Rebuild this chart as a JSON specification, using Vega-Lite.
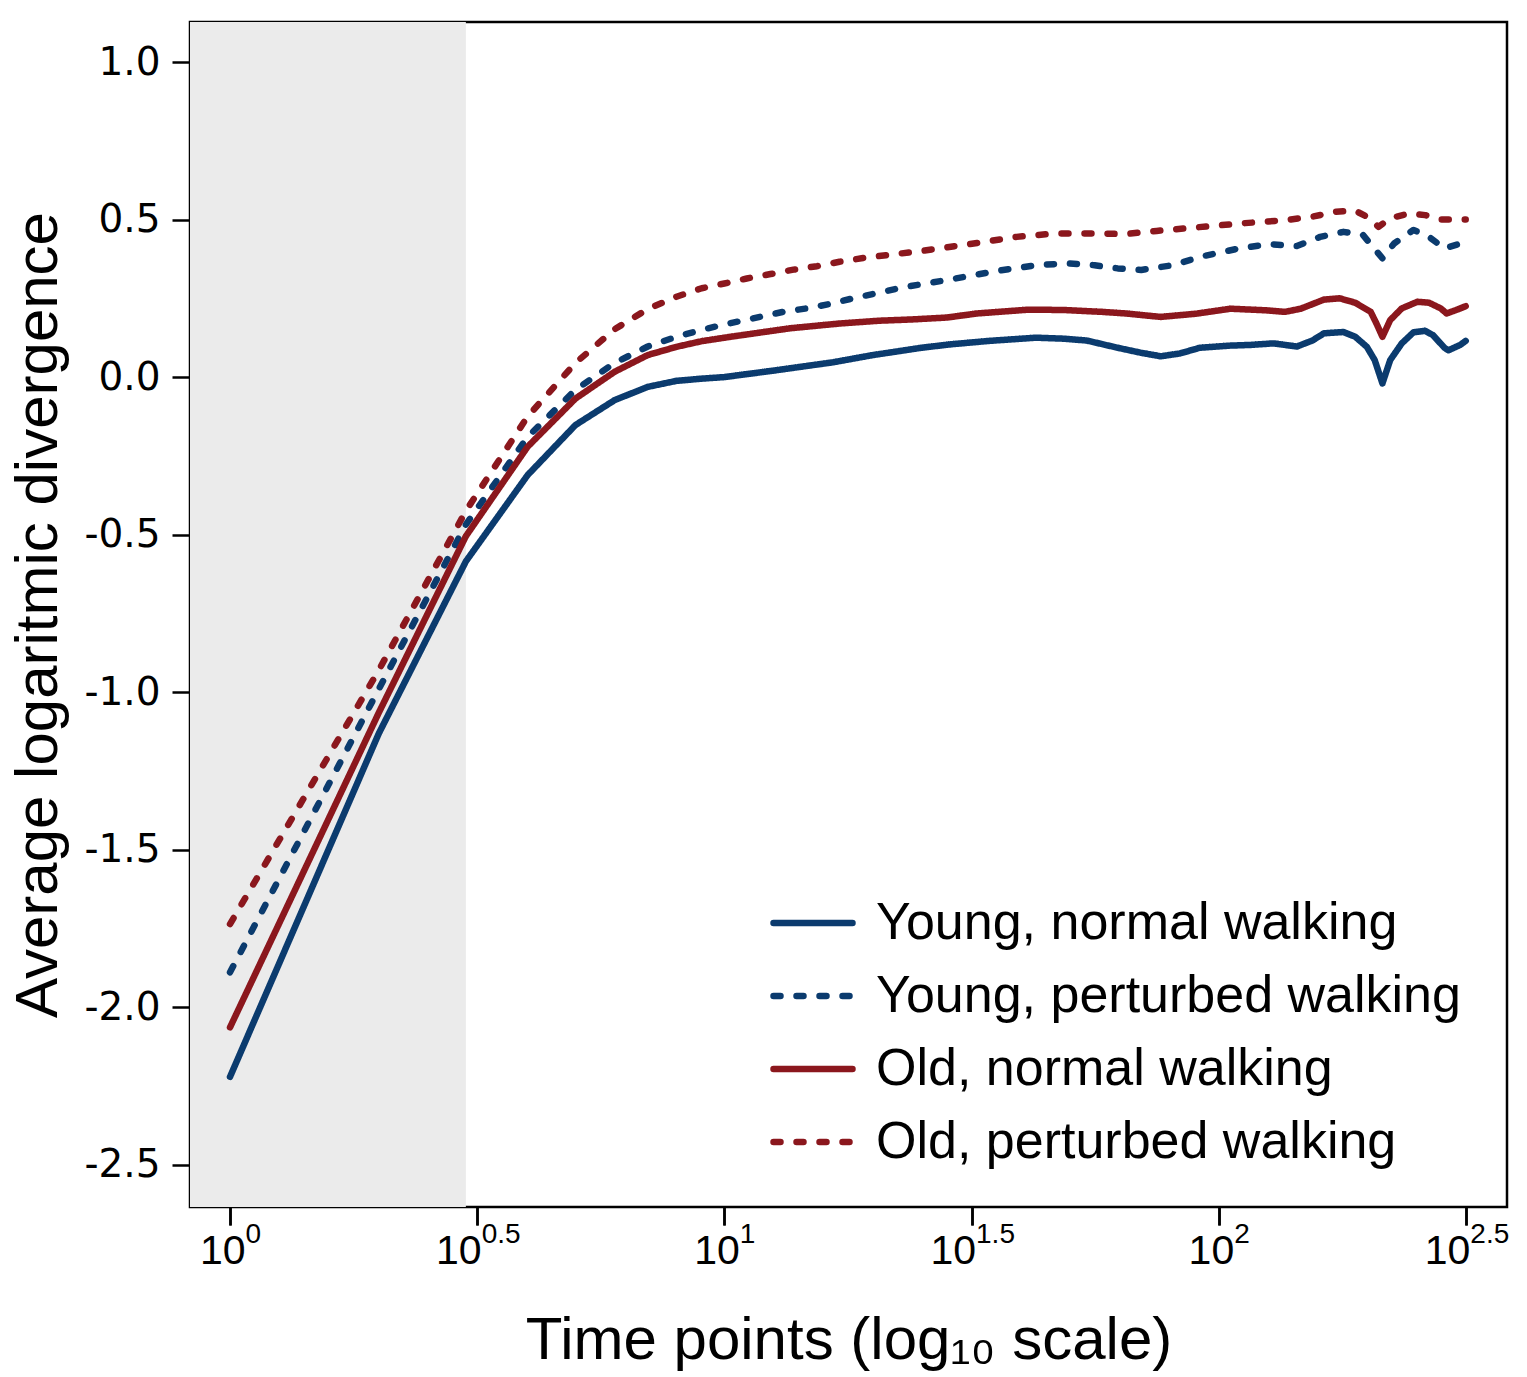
{
  "$schema": "https://vega.github.io/schema/vega-lite/v6.json",
  "width": 1317,
  "height": 1185,
  "autosize": {"type": "none"},
  "padding": {"left": 190, "top": 22, "right": 20, "bottom": 170},
  "background": "white",
  "config": {
    "view": {"stroke": "black", "strokeWidth": 2.5},
    "font": "Liberation Sans",
    "axis": {
      "grid": false,
      "domain": false,
      "tickColor": "black",
      "tickWidth": 2.5,
      "tickSize": 18,
      "labelColor": "black",
      "titleColor": "black",
      "titleFont": "Liberation Sans",
      "titleFontWeight": "normal",
      "titleFontSize": 60,
      "labelFont": "Liberation Sans"
    }
  },
  "datasets": {
    "shade": [{"a": 0.83, "b": 3}],
    "curves": [
      {"s": "Young, normal walking", "t": 1, "v": -2.221},
      {"s": "Young, normal walking", "t": 2, "v": -1.131},
      {"s": "Young, normal walking", "t": 3, "v": -0.585},
      {"s": "Young, normal walking", "t": 4, "v": -0.311},
      {"s": "Young, normal walking", "t": 5, "v": -0.152},
      {"s": "Young, normal walking", "t": 6, "v": -0.073},
      {"s": "Young, normal walking", "t": 7, "v": -0.031},
      {"s": "Young, normal walking", "t": 8, "v": -0.012},
      {"s": "Young, normal walking", "t": 9, "v": -0.005},
      {"s": "Young, normal walking", "t": 10, "v": 0.0},
      {"s": "Young, normal walking", "t": 12.5, "v": 0.02},
      {"s": "Young, normal walking", "t": 16.6, "v": 0.047},
      {"s": "Young, normal walking", "t": 20, "v": 0.07},
      {"s": "Young, normal walking", "t": 22.7, "v": 0.083},
      {"s": "Young, normal walking", "t": 25, "v": 0.093},
      {"s": "Young, normal walking", "t": 28.7, "v": 0.104},
      {"s": "Young, normal walking", "t": 34.4, "v": 0.115},
      {"s": "Young, normal walking", "t": 42.7, "v": 0.125},
      {"s": "Young, normal walking", "t": 48.5, "v": 0.122},
      {"s": "Young, normal walking", "t": 54.1, "v": 0.116},
      {"s": "Young, normal walking", "t": 62.5, "v": 0.093},
      {"s": "Young, normal walking", "t": 69.7, "v": 0.077},
      {"s": "Young, normal walking", "t": 76.3, "v": 0.066},
      {"s": "Young, normal walking", "t": 83.5, "v": 0.075},
      {"s": "Young, normal walking", "t": 91.5, "v": 0.093},
      {"s": "Young, normal walking", "t": 105.7, "v": 0.1},
      {"s": "Young, normal walking", "t": 115.7, "v": 0.102},
      {"s": "Young, normal walking", "t": 129, "v": 0.107},
      {"s": "Young, normal walking", "t": 143.9, "v": 0.097},
      {"s": "Young, normal walking", "t": 154.7, "v": 0.116},
      {"s": "Young, normal walking", "t": 163.3, "v": 0.139},
      {"s": "Young, normal walking", "t": 178.8, "v": 0.143},
      {"s": "Young, normal walking", "t": 188.9, "v": 0.128},
      {"s": "Young, normal walking", "t": 199.4, "v": 0.096},
      {"s": "Young, normal walking", "t": 206.8, "v": 0.054},
      {"s": "Young, normal walking", "t": 214.4, "v": -0.02},
      {"s": "Young, normal walking", "t": 222.3, "v": 0.054},
      {"s": "Young, normal walking", "t": 234.6, "v": 0.107},
      {"s": "Young, normal walking", "t": 247.7, "v": 0.142},
      {"s": "Young, normal walking", "t": 261.6, "v": 0.147},
      {"s": "Young, normal walking", "t": 271.3, "v": 0.133},
      {"s": "Young, normal walking", "t": 286.3, "v": 0.093},
      {"s": "Young, normal walking", "t": 291.6, "v": 0.085},
      {"s": "Young, normal walking", "t": 307.9, "v": 0.102},
      {"s": "Young, normal walking", "t": 316, "v": 0.115},

      {"s": "Young, perturbed walking", "t": 1, "v": -1.889},
      {"s": "Young, perturbed walking", "t": 2, "v": -0.99},
      {"s": "Young, perturbed walking", "t": 3, "v": -0.468},
      {"s": "Young, perturbed walking", "t": 4, "v": -0.19},
      {"s": "Young, perturbed walking", "t": 5, "v": -0.04},
      {"s": "Young, perturbed walking", "t": 6, "v": 0.045},
      {"s": "Young, perturbed walking", "t": 7, "v": 0.097},
      {"s": "Young, perturbed walking", "t": 8, "v": 0.128},
      {"s": "Young, perturbed walking", "t": 9, "v": 0.15},
      {"s": "Young, perturbed walking", "t": 10, "v": 0.167},
      {"s": "Young, perturbed walking", "t": 11.8, "v": 0.191},
      {"s": "Young, perturbed walking", "t": 13.15, "v": 0.207},
      {"s": "Young, perturbed walking", "t": 14.67, "v": 0.218},
      {"s": "Young, perturbed walking", "t": 16.35, "v": 0.232},
      {"s": "Young, perturbed walking", "t": 18.2, "v": 0.25},
      {"s": "Young, perturbed walking", "t": 20.3, "v": 0.266},
      {"s": "Young, perturbed walking", "t": 23, "v": 0.285},
      {"s": "Young, perturbed walking", "t": 28.2, "v": 0.308},
      {"s": "Young, perturbed walking", "t": 35.65, "v": 0.337},
      {"s": "Young, perturbed walking", "t": 42.7, "v": 0.355},
      {"s": "Young, perturbed walking", "t": 49.4, "v": 0.361},
      {"s": "Young, perturbed walking", "t": 56.1, "v": 0.355},
      {"s": "Young, perturbed walking", "t": 62.5, "v": 0.345},
      {"s": "Young, perturbed walking", "t": 69.7, "v": 0.34},
      {"s": "Young, perturbed walking", "t": 80.6, "v": 0.355},
      {"s": "Young, perturbed walking", "t": 93.1, "v": 0.384},
      {"s": "Young, perturbed walking", "t": 109.6, "v": 0.408},
      {"s": "Young, perturbed walking", "t": 126.7, "v": 0.422},
      {"s": "Young, perturbed walking", "t": 143.9, "v": 0.416},
      {"s": "Young, perturbed walking", "t": 160.4, "v": 0.445},
      {"s": "Young, perturbed walking", "t": 178.8, "v": 0.461},
      {"s": "Young, perturbed walking", "t": 195.8, "v": 0.451},
      {"s": "Young, perturbed walking", "t": 204.9, "v": 0.414},
      {"s": "Young, perturbed walking", "t": 214.4, "v": 0.377},
      {"s": "Young, perturbed walking", "t": 226.4, "v": 0.424},
      {"s": "Young, perturbed walking", "t": 247.7, "v": 0.467},
      {"s": "Young, perturbed walking", "t": 266.4, "v": 0.445},
      {"s": "Young, perturbed walking", "t": 286.3, "v": 0.408},
      {"s": "Young, perturbed walking", "t": 307.9, "v": 0.424},
      {"s": "Young, perturbed walking", "t": 316, "v": 0.43},

      {"s": "Old, normal walking", "t": 1, "v": -2.064},
      {"s": "Old, normal walking", "t": 2, "v": -1.065},
      {"s": "Old, normal walking", "t": 3, "v": -0.505},
      {"s": "Old, normal walking", "t": 4, "v": -0.221},
      {"s": "Old, normal walking", "t": 5, "v": -0.068},
      {"s": "Old, normal walking", "t": 6, "v": 0.017},
      {"s": "Old, normal walking", "t": 7, "v": 0.07},
      {"s": "Old, normal walking", "t": 8, "v": 0.096},
      {"s": "Old, normal walking", "t": 9, "v": 0.114},
      {"s": "Old, normal walking", "t": 10.3, "v": 0.128},
      {"s": "Old, normal walking", "t": 13.6, "v": 0.155},
      {"s": "Old, normal walking", "t": 17.1, "v": 0.17},
      {"s": "Old, normal walking", "t": 20.6, "v": 0.179},
      {"s": "Old, normal walking", "t": 24, "v": 0.183},
      {"s": "Old, normal walking", "t": 28.2, "v": 0.189},
      {"s": "Old, normal walking", "t": 32.5, "v": 0.202},
      {"s": "Old, normal walking", "t": 41.2, "v": 0.214},
      {"s": "Old, normal walking", "t": 48.5, "v": 0.213},
      {"s": "Old, normal walking", "t": 58.1, "v": 0.207},
      {"s": "Old, normal walking", "t": 64.8, "v": 0.202},
      {"s": "Old, normal walking", "t": 76.3, "v": 0.191},
      {"s": "Old, normal walking", "t": 89.8, "v": 0.201},
      {"s": "Old, normal walking", "t": 105.7, "v": 0.217},
      {"s": "Old, normal walking", "t": 124.5, "v": 0.212},
      {"s": "Old, normal walking", "t": 136.2, "v": 0.207},
      {"s": "Old, normal walking", "t": 146.5, "v": 0.217},
      {"s": "Old, normal walking", "t": 163.3, "v": 0.246},
      {"s": "Old, normal walking", "t": 175.7, "v": 0.25},
      {"s": "Old, normal walking", "t": 188.9, "v": 0.236},
      {"s": "Old, normal walking", "t": 203, "v": 0.207},
      {"s": "Old, normal walking", "t": 208.5, "v": 0.17},
      {"s": "Old, normal walking", "t": 214.4, "v": 0.128},
      {"s": "Old, normal walking", "t": 222.3, "v": 0.181},
      {"s": "Old, normal walking", "t": 234.6, "v": 0.218},
      {"s": "Old, normal walking", "t": 252.3, "v": 0.239},
      {"s": "Old, normal walking", "t": 266.4, "v": 0.236},
      {"s": "Old, normal walking", "t": 281.3, "v": 0.218},
      {"s": "Old, normal walking", "t": 289.1, "v": 0.202},
      {"s": "Old, normal walking", "t": 302.4, "v": 0.213},
      {"s": "Old, normal walking", "t": 316, "v": 0.225},

      {"s": "Old, perturbed walking", "t": 1, "v": -1.736},
      {"s": "Old, perturbed walking", "t": 2, "v": -0.93},
      {"s": "Old, perturbed walking", "t": 3, "v": -0.425},
      {"s": "Old, perturbed walking", "t": 4, "v": -0.125},
      {"s": "Old, perturbed walking", "t": 5, "v": 0.045},
      {"s": "Old, perturbed walking", "t": 6, "v": 0.152},
      {"s": "Old, perturbed walking", "t": 7, "v": 0.216},
      {"s": "Old, perturbed walking", "t": 8, "v": 0.255},
      {"s": "Old, perturbed walking", "t": 9, "v": 0.282},
      {"s": "Old, perturbed walking", "t": 10, "v": 0.297},
      {"s": "Old, perturbed walking", "t": 11.1, "v": 0.313},
      {"s": "Old, perturbed walking", "t": 12.4, "v": 0.327},
      {"s": "Old, perturbed walking", "t": 13.8, "v": 0.341},
      {"s": "Old, perturbed walking", "t": 15.4, "v": 0.352},
      {"s": "Old, perturbed walking", "t": 17.1, "v": 0.366},
      {"s": "Old, perturbed walking", "t": 19.1, "v": 0.378},
      {"s": "Old, perturbed walking", "t": 21.3, "v": 0.387},
      {"s": "Old, perturbed walking", "t": 24.1, "v": 0.397},
      {"s": "Old, perturbed walking", "t": 27.2, "v": 0.408},
      {"s": "Old, perturbed walking", "t": 32.5, "v": 0.426},
      {"s": "Old, perturbed walking", "t": 39, "v": 0.445},
      {"s": "Old, perturbed walking", "t": 46.8, "v": 0.456},
      {"s": "Old, perturbed walking", "t": 56.1, "v": 0.456},
      {"s": "Old, perturbed walking", "t": 64.8, "v": 0.454},
      {"s": "Old, perturbed walking", "t": 74.9, "v": 0.464},
      {"s": "Old, perturbed walking", "t": 89.8, "v": 0.475},
      {"s": "Old, perturbed walking", "t": 111.6, "v": 0.488},
      {"s": "Old, perturbed walking", "t": 136.2, "v": 0.498},
      {"s": "Old, perturbed walking", "t": 154.7, "v": 0.509},
      {"s": "Old, perturbed walking", "t": 172.5, "v": 0.525},
      {"s": "Old, perturbed walking", "t": 188.9, "v": 0.528},
      {"s": "Old, perturbed walking", "t": 199.4, "v": 0.509},
      {"s": "Old, perturbed walking", "t": 210.5, "v": 0.477},
      {"s": "Old, perturbed walking", "t": 222.3, "v": 0.504},
      {"s": "Old, perturbed walking", "t": 243.3, "v": 0.52},
      {"s": "Old, perturbed walking", "t": 261.6, "v": 0.514},
      {"s": "Old, perturbed walking", "t": 281.3, "v": 0.5},
      {"s": "Old, perturbed walking", "t": 307.9, "v": 0.5},
      {"s": "Old, perturbed walking", "t": 316, "v": 0.5}
    ]
  },
  "layer": [
    {
      "data": {"name": "shade"},
      "mark": {"type": "rect", "color": "#ebebeb"},
      "encoding": {
        "x": {
          "field": "a",
          "type": "quantitative",
          "scale": {"type": "log", "domain": [0.83, 383], "nice": false},
          "axis": {
            "orient": "bottom",
            "values": [1, 3.16228, 10, 31.6228, 100, 316.228],
            "labelExpr": "'' + (round(log(datum.value) / LN10 * 2) / 2)",
            "labelFontSize": 28,
            "labelAlign": "left",
            "labelBaseline": "top",
            "labelPadding": -5,
            "labelOffset": {"condition": {"test": "round(log(datum.value) / LN10 * 2) % 2 == 0", "value": 15}, "value": 4},
            "labelFlush": false,
            "labelOverlap": false,
            "title": null
          }
        },
        "x2": {"field": "b"}
      }
    },
    {
      "data": {"name": "curves"},
      "mark": {"type": "line", "strokeWidth": 6.5, "strokeCap": "round", "strokeJoin": "round"},
      "encoding": {
        "x": {
          "field": "t",
          "type": "quantitative",
          "scale": {"type": "log", "domain": [0.83, 383], "nice": false},
          "axis": {
            "orient": "bottom",
            "values": [1, 3.16228, 10, 31.6228, 100, 316.228],
            "labelExpr": "'10'",
            "labelFontSize": 41,
            "labelAlign": "right",
            "labelBaseline": "top",
            "labelPadding": 6,
            "labelOffset": {"condition": {"test": "round(log(datum.value) / LN10 * 2) % 2 == 0", "value": 15}, "value": 4},
            "labelFlush": false,
            "labelOverlap": false,
            "title": "Time points (log₁₀ scale)",
            "titlePadding": 40
          }
        },
        "y": {
          "field": "v",
          "type": "quantitative",
          "scale": {"domain": [-2.634, 1.127], "nice": false, "zero": false},
          "axis": {
            "values": [-2.5, -2, -1.5, -1, -0.5, 0, 0.5, 1],
            "labelExpr": "replace(format(datum.value, '.1f'), '−', '-')",
            "labelFont": "DejaVu Sans",
            "labelFontSize": 39,
            "labelPadding": 12,
            "title": "Average logaritmic divergence",
            "titlePadding": 14
          }
        },
        "color": {
          "field": "s",
          "type": "nominal",
          "scale": {
            "domain": ["Young, normal walking", "Young, perturbed walking", "Old, normal walking", "Old, perturbed walking"],
            "range": ["#0b3b6e", "#0b3b6e", "#8b171d", "#8b171d"]
          },
          "legend": {
            "title": null,
            "orient": "none",
            "legendX": 580,
            "legendY": 858,
            "padding": 0,
            "symbolType": "stroke",
            "symbolSize": 6241,
            "symbolStrokeWidth": 6.5,
            "labelFont": "Liberation Sans",
            "labelFontSize": 52,
            "labelColor": "black",
            "labelOffset": 20,
            "labelLimit": 0,
            "rowPadding": 4,
            "encode": {"symbols": {"update": {"strokeCap": {"value": "round"}}}}
          }
        },
        "strokeDash": {
          "field": "s",
          "type": "nominal",
          "scale": {
            "domain": ["Young, normal walking", "Young, perturbed walking", "Old, normal walking", "Old, perturbed walking"],
            "range": [[1, 0], [7, 16], [1, 0], [7, 16]]
          },
          "legend": {
            "title": null,
            "orient": "none",
            "legendX": 580,
            "legendY": 858,
            "padding": 0,
            "symbolType": "stroke",
            "symbolSize": 6241,
            "symbolStrokeWidth": 6.5,
            "labelFont": "Liberation Sans",
            "labelFontSize": 52,
            "labelColor": "black",
            "labelOffset": 20,
            "labelLimit": 0,
            "rowPadding": 4,
            "encode": {"symbols": {"update": {"strokeCap": {"value": "round"}}}}
          }
        }
      }
    }
  ],
  "resolve": {"axis": {"x": "independent"}}
}
